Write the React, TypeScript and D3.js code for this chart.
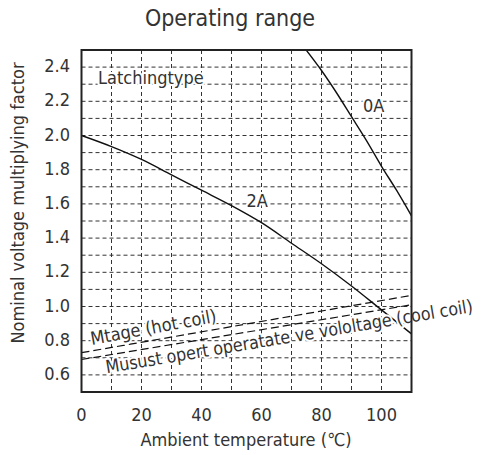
import * as d3 from 'd3';

// Ambient temperature (°C) vs nominal voltage multiplying factor
const temps2A = [0, 10, 20, 30, 40, 50, 60, 70, 80, 90, 100, 110];
const factor2A = [2.0, 1.935, 1.86, 1.77, 1.68, 1.59, 1.49, 1.37, 1.25, 1.12, 0.98, 0.84];

const temps0A = [74, 80, 85, 90, 95, 100, 105, 110];
const factor0A = [2.52, 2.38, 2.25, 2.11, 1.97, 1.82, 1.68, 1.53];

const tempsCoil = [0, 110];
const factorHot = [0.73, 1.065];
const factorCool = [0.69, 1.01];

const xTicks = [0, 20, 40, 60, 80, 100];
const yTicks = [2.4, 2.2, 2.0, 1.8, 1.6, 1.4, 1.2, 1.0, 0.8, 0.6];
const xGrid = [10, 20, 30, 40, 50, 60, 70, 80, 90, 100];
const yGrid = d3.range(6, 25).map((d) => d / 10);

const FONT = "'Liberation Sans Narrow', 'DejaVu Sans Condensed', 'Noto Sans', sans-serif";

export default function App() {
  const width = 481;
  const height = 455;
  const left = 81.5;
  const right = 411.5;
  const top = 50;
  const bottom = 392;

  const x = d3.scaleLinear([0, 110], [left, right]);
  const y = d3.scaleLinear([0.5, 2.5], [bottom, top]);

  const line = d3
    .line<[number, number]>()
    .x((d) => x(d[0]))
    .y((d) => y(d[1]))
    .curve(d3.curveMonotoneX);

  const zip = (a: number[], b: number[]) => a.map((t, i) => [t, b[i]] as [number, number]);

  const halo = {
    stroke: 'white',
    strokeWidth: 4,
    paintOrder: 'stroke' as const,
    strokeLinejoin: 'round' as const,
  };

  return (
    <svg
      width={width}
      height={height}
      style={{ position: 'absolute', left: 0, top: 0, background: 'white' }}
      fontFamily={FONT}
    >
      <defs>
        <clipPath id='plot'>
          <rect x={left} y={top} width={right - left} height={bottom - top} />
        </clipPath>
      </defs>

      <text x={230} y={26} textAnchor='middle' fontSize={23} fill='#333'>
        Operating range
      </text>

      <g stroke='#333' strokeWidth={1} strokeDasharray='4,3'>
        {xGrid.map((t) => (
          <line key={t} x1={x(t)} x2={x(t)} y1={top} y2={bottom} />
        ))}
        {yGrid.map((v) => (
          <line key={v} x1={left} x2={right} y1={y(v)} y2={y(v)} />
        ))}
      </g>

      <g clipPath='url(#plot)' fill='none' stroke='#111'>
        <path d={line(zip(temps2A, factor2A)) ?? ''} strokeWidth={1.4} />
        <path d={line(zip(temps0A, factor0A)) ?? ''} strokeWidth={1.4} />
        <path d={line(zip(tempsCoil, factorHot)) ?? ''} strokeWidth={1.2} strokeDasharray='8,4' />
        <path d={line(zip(tempsCoil, factorCool)) ?? ''} strokeWidth={1.2} strokeDasharray='8,4' />
      </g>

      <g fontSize={18} fill='#333' {...halo}>
        <text x={x(5.5)} y={y(2.3)}>Latchingtype</text>
        <text x={x(93.8)} y={y(2.137)}>0A</text>
        <text x={x(55)} y={y(1.584)}>2A</text>
        <text transform={`translate(${x(3.4)},${y(0.775)}) rotate(-10.5)`}>Mtage (hot coil)</text>
        <text
          transform={`translate(${x(8.4)},${y(0.609)}) rotate(-9.5)`}
          textLength={372}
          lengthAdjust='spacingAndGlyphs'
        >
          Musust opert operatate ve vololtage (cool coil)
        </text>
      </g>

      <rect
        x={left}
        y={top}
        width={right - left}
        height={bottom - top}
        fill='none'
        stroke='#222'
        strokeWidth={2}
      />

      <g fontSize={18} fill='#333'>
        {xTicks.map((t) => (
          <text key={t} x={x(t)} y={421} textAnchor='middle'>
            {t}
          </text>
        ))}
        {yTicks.map((v) => (
          <text key={v} x={70} y={y(v) + 5} textAnchor='end'>
            {v.toFixed(1)}
          </text>
        ))}
        <text x={246} y={446} textAnchor='middle'>
          Ambient temperature (℃)
        </text>
        <text transform='translate(24,203) rotate(-90)' textAnchor='middle'>
          Nominal voltage multiplying factor
        </text>
      </g>
    </svg>
  );
}
